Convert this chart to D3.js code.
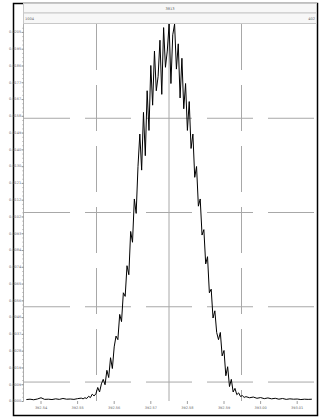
<!DOCTYPE html>
<html><head><meta charset="utf-8">
<script src="https://cdn.jsdelivr.net/npm/d3@7"></script>
<style>body{margin:0;background:#fff}svg{display:block}text{font-family:"DejaVu Sans",sans-serif}</style>
</head><body><svg id="c" width="324" height="419"></svg>
<script>
const headerTitle = "3813";
const headerLeft = "1004";
const headerRight = "402";
const xTickPos = [0, 10, 20, 30, 40, 50, 60, 70];
const xTickLabels = ["392.54","392.55","392.56","392.57","392.58","392.59","393.00","393.01"];
const yTickValues = [0,0.00093,0.00186,0.00279,0.00372,0.00465,0.00558,0.00651,0.00744,0.00837,0.0093,0.01023,0.01116,0.01209,0.01302,0.01395,0.01488,0.01581,0.01674,0.01767,0.0186,0.01953,0.02046];
const markerLevel = 0.00105;
const time = [-4,-3,-2,-1,0,1,2,3,4,5,6,7,8,9,10,11,
 11.5,12,12.5,13,13.5,14,14.5,15,15.5,16,16.5,17,17.5,18,18.5,19,19.5,20,20.5,21,21.5,22,22.5,23,23.5,24,24.5,25,25.5,26,26.5,27,27.5,28,28.5,29,29.5,30,30.5,31,31.5,32,32.5,33,33.5,34,34.5,35,35.5,36,36.5,37,37.5,38,38.5,39,39.5,40,40.5,41,41.5,42,42.5,43,43.5,44,44.5,45,45.5,46,46.5,47,47.5,48,48.5,49,49.5,50,50.5,51,51.5,52,52.5,53,53.5,54,54.5,55,55.5,56,
 57,58,59,60,61,62,63,64,65,66,67,68,69,70,71,72,73,74];
const signal = [0.00008,0.00010,0.00007,0.00011,0.00018,0.00009,0.00010,0.00008,0.00012,0.00009,0.00014,0.00010,0.00011,0.00009,0.00013,0.00016,
 0.00012,0.00018,0.00014,0.00026,0.00019,0.00038,0.00028,0.00040,0.00075,0.00050,0.00095,0.00120,0.00090,0.00170,0.00130,0.00240,0.00180,0.00300,0.00360,0.00340,0.00480,0.00440,0.00600,0.00580,0.00750,0.00700,0.00940,0.00880,0.01120,0.01040,0.01300,0.01480,0.01280,0.01600,0.01360,0.01720,0.01500,0.01860,0.01640,0.01940,0.01720,0.01800,0.02000,0.01700,0.02070,0.01850,0.01940,0.02090,0.01760,0.02030,0.02090,0.01840,0.01980,0.01680,0.01900,0.01620,0.01760,0.01500,0.01660,0.01400,0.01480,0.01240,0.01300,0.01080,0.01120,0.00920,0.00950,0.00760,0.00800,0.00600,0.00620,0.00460,0.00500,0.00380,0.00340,0.00380,0.00250,0.00280,0.00140,0.00190,0.00080,0.00120,0.00050,0.00070,0.00035,0.00045,0.00025,0.00030,0.00020,0.00024,
 0.00018,0.00022,0.00015,0.00019,0.00013,0.00017,0.00012,0.00015,0.00010,0.00014,0.00009,0.00012,0.00010,0.00011,0.00008,0.00010,0.00009,0.00010];

const svg = d3.select("#c");
const L = 24, R = 314, T = 24, B = 401;
const x = d3.scaleLinear().domain([-4.645, 74.59]).range([L, R]);
const y = d3.scaleLinear().domain([0, 0.0209]).range([B, T]);

svg.append("rect").attr("x",13.5).attr("y",3.5).attr("width",304).attr("height",412)
  .attr("fill","#fff").attr("stroke","#000").attr("stroke-width",1.5);

svg.append("rect").attr("x",23.5).attr("y",3.5).attr("width",293).attr("height",9.5)
  .attr("fill","#f7f7f7").attr("stroke","#c8c8c8").attr("stroke-width",1);
svg.append("rect").attr("x",23.5).attr("y",13).attr("width",293).attr("height",10.5)
  .attr("fill","#f7f7f7").attr("stroke","#c8c8c8").attr("stroke-width",1);
svg.append("text").attr("x",170).attr("y",10).attr("text-anchor","middle")
  .attr("font-size",3.6).attr("fill","#666").text(headerTitle);
svg.append("text").attr("x",25).attr("y",19.8).attr("font-size",3.6).attr("fill","#666").text(headerLeft);
svg.append("text").attr("x",315).attr("y",19.8).attr("text-anchor","end").attr("font-size",3.6).attr("fill","#666").text(headerRight);

const gx = [1,2,3].map(i => L + (R-L)*i/4);
const gy = [1,2,3].map(i => T + (B-T)*i/4);
const grid = svg.append("g").attr("stroke","#a8a8a8").attr("stroke-width",1).attr("fill","none");
gx.forEach((gxv,i) => {
  grid.append("line").attr("x1",gxv).attr("x2",gxv).attr("y1",T).attr("y2",B)
    .attr("stroke-dasharray", i===1 ? null : "46,15");
});
gy.forEach(gyv => {
  grid.append("line").attr("x1",L).attr("x2",R).attr("y1",gyv).attr("y2",gyv).attr("stroke-dasharray","46,15");
});
grid.append("line").attr("x1",L).attr("x2",R).attr("y1",y(markerLevel)).attr("y2",y(markerLevel)).attr("stroke-dasharray","46,15");

const step = yTickValues[1];
const minor = d3.range(0, 0.0209, step/4);
const ya = svg.append("g");
ya.append("line").attr("x1",23.5).attr("x2",23.5).attr("y1",T).attr("y2",B).attr("stroke","#999").attr("stroke-width",0.8);
ya.selectAll("line.mn").data(minor).enter().append("line").attr("class","mn")
  .attr("x1",22.3).attr("x2",23.5).attr("y1",d=>y(d)+0.5).attr("y2",d=>y(d)+0.5).attr("stroke","#999").attr("stroke-width",0.7);
ya.selectAll("line.mj").data(yTickValues).enter().append("line").attr("class","mj")
  .attr("x1",21.5).attr("x2",23.5).attr("y1",d=>y(d)+0.5).attr("y2",d=>y(d)+0.5).attr("stroke","#888").attr("stroke-width",0.8);
ya.selectAll("text").data(yTickValues).enter().append("text")
  .attr("x",21.3).attr("y",d=>y(d)+1.3).attr("text-anchor","end").attr("font-size",3.5).attr("fill","#666")
  .text(d=>d3.format(".4f")(d));

const xa = svg.append("g");
xa.selectAll("line").data(xTickPos).enter().append("line")
  .attr("x1",d=>x(d)).attr("x2",d=>x(d)).attr("y1",B).attr("y2",B+3).attr("stroke","#888").attr("stroke-width",0.8);
xa.selectAll("text").data(xTickPos).enter().append("text")
  .attr("x",d=>x(d)).attr("y",B+8).attr("text-anchor","middle").attr("font-size",3.5).attr("fill","#666")
  .text((d,i)=>xTickLabels[i]);

svg.append("clipPath").attr("id","cp").append("rect").attr("x",L).attr("y",T).attr("width",R-L).attr("height",B-T+1);
const data = time.map((t,i)=>({t, v: signal[i]}));
svg.append("path").datum(data).attr("clip-path","url(#cp)")
  .attr("fill","none").attr("stroke","#000").attr("stroke-width",1)
  .attr("d", d3.line().x(d=>x(d.t)).y(d=>y(d.v)));
</script></body></html>
